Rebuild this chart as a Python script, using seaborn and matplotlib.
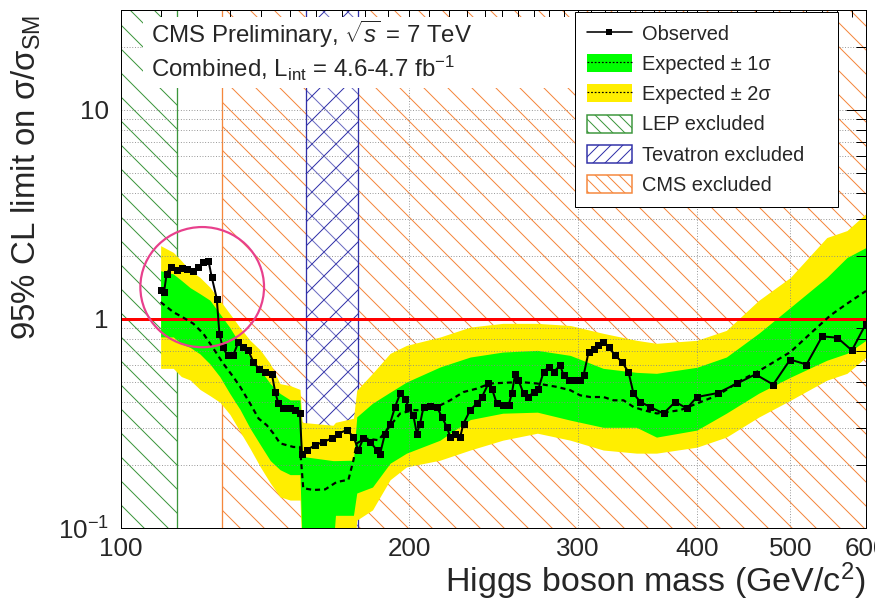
import numpy as np
import pandas as pd
import matplotlib
matplotlib.use("Agg")
import matplotlib.pyplot as plt
from matplotlib.patches import Patch, Rectangle, Ellipse
from matplotlib.lines import Line2D
from matplotlib.ticker import FixedLocator, NullFormatter, FuncFormatter, LogLocator
import seaborn as sns

# ------------------------------
# data
# ------------------------------
obs_mass = [110.0, 110.9, 111.6, 112.7, 114.3, 115.7, 117.1, 119.0, 120.4, 121.9,
            123.4, 124.4, 125.9, 126.7, 127.7, 129.2, 131.0, 132.6, 134.2, 135.8,
            137.5, 139.2, 141.4, 143.7, 144.9, 146.0, 147.8, 150.2, 152.0, 153.8,
            154.5, 156.3, 159.5, 162.7, 166.0, 168.7, 172.1, 174.9, 177.0, 179.1,
            182.1, 185.0, 186.5, 188.7, 191.0, 193.3, 195.7, 198.1, 199.6, 202.0,
            203.7, 205.3, 207.0, 210.4, 213.8, 216.3, 218.9, 220.7, 223.4, 226.1,
            227.9, 231.6, 235.3, 238.2, 242.0, 244.0, 246.9, 250.9, 254.0, 256.0,
            258.1, 260.1, 263.3, 266.4, 269.7, 272.9, 276.3, 279.6, 283.0, 287.6,
            289.9, 293.4, 298.2, 301.7, 304.2, 307.9, 311.6, 315.3, 319.1, 323.0,
            328.2, 333.6, 338.9, 343.0, 348.6, 357.1, 368.7, 379.3, 390.0, 399.5,
            420, 440, 460, 480, 500, 520, 540, 560, 580, 600]
obs_limit = [1.37, 1.34, 1.64, 1.78, 1.72, 1.75, 1.74, 1.69, 1.77, 1.87,
             1.90, 1.58, 1.25, 0.85, 0.73, 0.67, 0.67, 0.775, 0.733, 0.707,
             0.622, 0.579, 0.557, 0.548, 0.447, 0.394, 0.373, 0.373, 0.366, 0.353,
             0.227, 0.236, 0.249, 0.258, 0.268, 0.283, 0.294, 0.273, 0.236, 0.268,
             0.258, 0.236, 0.227, 0.283, 0.316, 0.379, 0.440, 0.416, 0.379, 0.346,
             0.283, 0.316, 0.379, 0.382, 0.379, 0.340, 0.305, 0.273, 0.283, 0.273,
             0.316, 0.366, 0.394, 0.423, 0.491, 0.464, 0.394, 0.386, 0.386, 0.440,
             0.548, 0.509, 0.440, 0.423, 0.447, 0.464, 0.557, 0.589, 0.557, 0.600,
             0.537, 0.509, 0.509, 0.509, 0.537, 0.694, 0.721, 0.747, 0.775, 0.733,
             0.670, 0.622, 0.557, 0.440, 0.401, 0.379, 0.353, 0.401, 0.373, 0.423,
             0.442, 0.491, 0.543, 0.485, 0.639, 0.605, 0.825, 0.813, 0.707, 0.949]

exp_mass = [110.0, 113.4, 116.2, 119.0, 121.9, 124.9, 127.9, 131.0, 133.2, 136.4,
            139.2, 142.0, 144.3, 146.6, 151.4, 153.8, 155.0, 158.8, 163.4, 168.0,
            172.8, 174.9, 176.3, 179.9, 185.7, 189.5, 195.7, 202.0, 207.0, 213.8,
            220.7, 227.9, 235.3, 243.0, 261.2, 271.9, 285.3, 294.6, 301.7, 309.1,
            319.1, 326.9, 334.9, 343.0, 351.4, 362.9, 383.8, 399.5, 420, 444.5,
            468.7, 500.2, 524.8, 550.7, 573.2, 600]
exp_limit = [1.203, 1.078, 1.013, 0.949, 0.850, 0.721, 0.611, 0.528, 0.473, 0.394,
             0.334, 0.310, 0.283, 0.254, 0.244, 0.244, 0.155, 0.152, 0.153, 0.166,
             0.170, 0.211, 0.254, 0.268, 0.263, 0.294, 0.353, 0.366, 0.366, 0.379,
             0.408, 0.447, 0.464, 0.491, 0.499, 0.491, 0.473, 0.456, 0.431, 0.423,
             0.423, 0.408, 0.408, 0.379, 0.366, 0.353, 0.366, 0.394, 0.431, 0.509,
             0.580, 0.694, 0.850, 1.039, 1.182, 1.36]

band_mass = [110.0, 113.4, 115.6, 118.1, 120.9, 123.8, 126.8, 129.9, 133.1, 136.4,
             139.8, 143.2, 146.6, 150.2, 153.8, 154.6, 166.5, 167.5, 174.9, 176.3,
             183.1, 191.0, 198.7, 215.4, 231.6, 250.5, 272.2, 294.6, 318.9, 345.5,
             362.5, 399.5, 428.8, 463.5, 500.2, 546.0, 573.2, 600.0]
band_2s_hi = [2.24, 2.08, 1.90, 1.70, 1.58, 1.42, 1.23, 1.06, 0.91, 0.79,
              0.71, 0.61, 0.49, 0.48, 0.46, 0.32, 0.31, 0.32, 0.335, 0.456,
              0.549, 0.684, 0.747, 0.819, 0.914, 0.952, 0.952, 0.93, 0.853, 0.79,
              0.764, 0.79, 0.881, 1.226, 1.578, 2.449, 2.645, 3.189]
band_1s_hi = [1.70, 1.64, 1.53, 1.41, 1.32, 1.23, 1.06, 0.91, 0.76, 0.66,
              0.57, 0.49, 0.44, 0.41, 0.41, 0.22, 0.21, 0.21, 0.211, 0.340,
              0.395, 0.446, 0.499, 0.589, 0.657, 0.694, 0.707, 0.669, 0.58, 0.555,
              0.549, 0.587, 0.657, 0.853, 1.135, 1.578, 1.966, 2.194]
band_1s_lo = [0.82, 0.82, 0.76, 0.73, 0.68, 0.61, 0.53, 0.44, 0.37, 0.30,
              0.25, 0.21, 0.19, 0.18, 0.18, 0.08, 0.08, 0.115, 0.115, 0.147,
              0.157, 0.204, 0.228, 0.263, 0.33, 0.354, 0.358, 0.328, 0.303, 0.303,
              0.272, 0.294, 0.354, 0.441, 0.526, 0.634, 0.684, 0.79]
band_2s_lo = [0.58, 0.58, 0.53, 0.51, 0.46, 0.43, 0.40, 0.35, 0.29, 0.24,
              0.196, 0.164, 0.141, 0.136, 0.136, 0.07, 0.07, 0.07, 0.07, 0.109,
              0.122, 0.170, 0.196, 0.211, 0.236, 0.263, 0.284, 0.263, 0.236, 0.228,
              0.228, 0.2435, 0.272, 0.339, 0.408, 0.509, 0.549, 0.655]

lep_excl = (100, 114.4)
tev_excl = (156, 177)
cms_excl = (127.5, 600)

x_major = [100, 200, 300, 400, 500, 600]
x_minor = list(range(110, 200, 10)) + list(range(210, 300, 10)) + \
          list(range(310, 400, 10)) + list(range(420, 500, 20)) + list(range(520, 600, 20))

# ------------------------------
# style
# ------------------------------
sns.set_style("white")
plt.rcParams['font.family'] = ['Liberation Sans', 'DejaVu Sans']
plt.rcParams['mathtext.fontset'] = 'custom'
plt.rcParams['mathtext.rm'] = 'Liberation Sans'
plt.rcParams['mathtext.it'] = 'Liberation Sans:italic'
plt.rcParams['mathtext.bf'] = 'Liberation Sans:bold'
plt.rcParams['hatch.linewidth'] = 1.0

green_band = '#00ff00'
yellow_band = '#ffee00'
lep_col = '#3c963c'
tev_col = '#3030a8'
tev_col2 = '#6a6ac0'
cms_col = '#f5873c'

fig = plt.figure(figsize=(875 / 72, 603 / 72), dpi=72)
ax = fig.add_axes([121 / 875, 75 / 603, 745 / 875, 518 / 603])
ax.set_xscale('log')
ax.set_yscale('log')
ax.set_xlim(100, 600)
ax.set_ylim(0.1, 30)

# excluded regions
ax.axvspan(*cms_excl, facecolor='none', edgecolor=cms_col, hatch='\\', lw=0, zorder=0.6)
ax.axvspan(*tev_excl, facecolor='white', edgecolor=tev_col2, hatch='\\', lw=0, zorder=0.7)
ax.axvspan(*tev_excl, facecolor='none', edgecolor=tev_col, hatch='/', lw=0, zorder=0.75)
ax.axvspan(*lep_excl, facecolor='none', edgecolor=lep_col, hatch='\\', lw=0, zorder=0.6)
ax.axvline(lep_excl[1], color=lep_col, lw=1.3, zorder=0.8)
ax.axvline(cms_excl[0], color=cms_col, lw=1.3, zorder=0.8)
for v in tev_excl:
    ax.axvline(v, color=tev_col, lw=1.3, zorder=0.8)

# expected bands
ax.fill_between(band_mass, band_2s_lo, band_2s_hi, color=yellow_band, lw=0, zorder=1.0)
ax.fill_between(band_mass, band_1s_lo, band_1s_hi, color=green_band, lw=0, zorder=1.1)

# grid above bands
ax.yaxis.grid(True, which='both', color='#888888', ls=(0, (1, 2)), lw=0.9)
ax.xaxis.grid(True, which='major', color='#888888', ls=(0, (1, 2)), lw=0.9)
ax.set_axisbelow(False)

# white block behind the header
ax.add_patch(Rectangle((0.0295, 0.849), 0.58, 0.137, transform=ax.transAxes,
                       facecolor='white', edgecolor='none', zorder=2.6))

ax.axhline(1.0, color='#ff0000', lw=3, zorder=2.8)

obs = pd.DataFrame({'mass': obs_mass, 'limit': obs_limit})
exp = pd.DataFrame({'mass': exp_mass, 'limit': exp_limit})
sns.lineplot(data=exp, x='mass', y='limit', ax=ax, color='black', lw=2.2,
             linestyle=(0, (2.3, 1.8)), estimator=None, zorder=3)
sns.lineplot(data=obs, x='mass', y='limit', ax=ax, color='black', lw=2,
             marker='s', markersize=7, markeredgewidth=0, estimator=None, zorder=3.2)

# highlight circle
ax.add_patch(Ellipse((0.109, 0.465), 0.166, 0.232, transform=ax.transAxes,
                     facecolor='none', edgecolor='#e8408c', lw=2.2, zorder=4))

# axes, ticks
ax.xaxis.set_major_locator(FixedLocator(x_major))
ax.xaxis.set_minor_locator(FixedLocator(x_minor))
ax.xaxis.set_major_formatter(FuncFormatter(lambda v, p: f"{v:.0f}"))
ax.xaxis.set_minor_formatter(NullFormatter())
ax.yaxis.set_major_locator(FixedLocator([0.1, 1, 10]))
ax.yaxis.set_minor_locator(LogLocator(base=10, subs=np.arange(2, 10)))
ax.yaxis.set_major_formatter(FuncFormatter(
    lambda v, p: {0.1: '10$^{-1}$', 1: '1', 10: '10'}.get(round(v, 3), '')))
ax.yaxis.set_minor_formatter(NullFormatter())

ax.tick_params(which='both', direction='in', top=True, right=True,
               color='black', width=1, labelsize=26)
ax.tick_params(axis='x', which='major', length=14, pad=9)
ax.tick_params(axis='x', which='minor', length=7)
ax.tick_params(axis='y', which='major', length=20, pad=12)
ax.tick_params(axis='y', which='minor', length=10)
for s in ax.spines.values():
    s.set_color('black')
    s.set_linewidth(1)
    s.set_zorder(5)

ax.set_xlabel('Higgs boson mass (GeV/c$^{2}$)', fontsize=34, loc='right')
ax.xaxis.set_label_coords(1.0, -0.062)
ax.set_ylabel('95% CL limit on σ/σ$_{\\rm SM}$', fontsize=33, loc='top')
ax.yaxis.set_label_coords(-0.105, 0.99)

# header text
ax.text(0.04, 0.953, 'CMS Preliminary, $\\sqrt{s}$ = 7 TeV', transform=ax.transAxes,
        fontsize=24, va='center', ha='left', zorder=6)
ax.text(0.04, 0.888, 'Combined, L$_{\\rm int}$ = 4.6-4.7 fb$^{-1}$', transform=ax.transAxes,
        fontsize=24, va='center', ha='left', zorder=6)

# legend
handles = [
    Line2D([], [], color='black', lw=1.6, marker='s', markersize=6, markeredgewidth=0),
    (Patch(facecolor=green_band, edgecolor='none'),
     Line2D([], [], color='black', lw=1.2, ls=(0, (1.5, 1.5)))),
    (Patch(facecolor=yellow_band, edgecolor='none'),
     Line2D([], [], color='black', lw=1.2, ls=(0, (1.5, 1.5)))),
    Patch(facecolor='white', edgecolor=lep_col, hatch='\\\\', lw=1.5),
    Patch(facecolor='white', edgecolor=tev_col, hatch='//', lw=1.5),
    Patch(facecolor='white', edgecolor=cms_col, hatch='\\\\', lw=1.5),
]
labels = ['Observed', 'Expected ± 1σ', 'Expected ± 2σ', 'LEP excluded',
          'Tevatron excluded', 'CMS excluded']
leg = ax.legend(handles, labels, loc='upper left',
                bbox_to_anchor=(0.609, 0.637, 0.353, 0.359), mode='expand',
                fontsize=20, frameon=True, fancybox=False, framealpha=1,
                edgecolor='black', borderpad=0.6, labelspacing=0.52,
                handlelength=2.25, handleheight=1.0, handletextpad=0.5,
                borderaxespad=0)
leg.get_frame().set_linewidth(1)
leg.set_zorder(7)

fig.savefig('out.png', dpi=72)
